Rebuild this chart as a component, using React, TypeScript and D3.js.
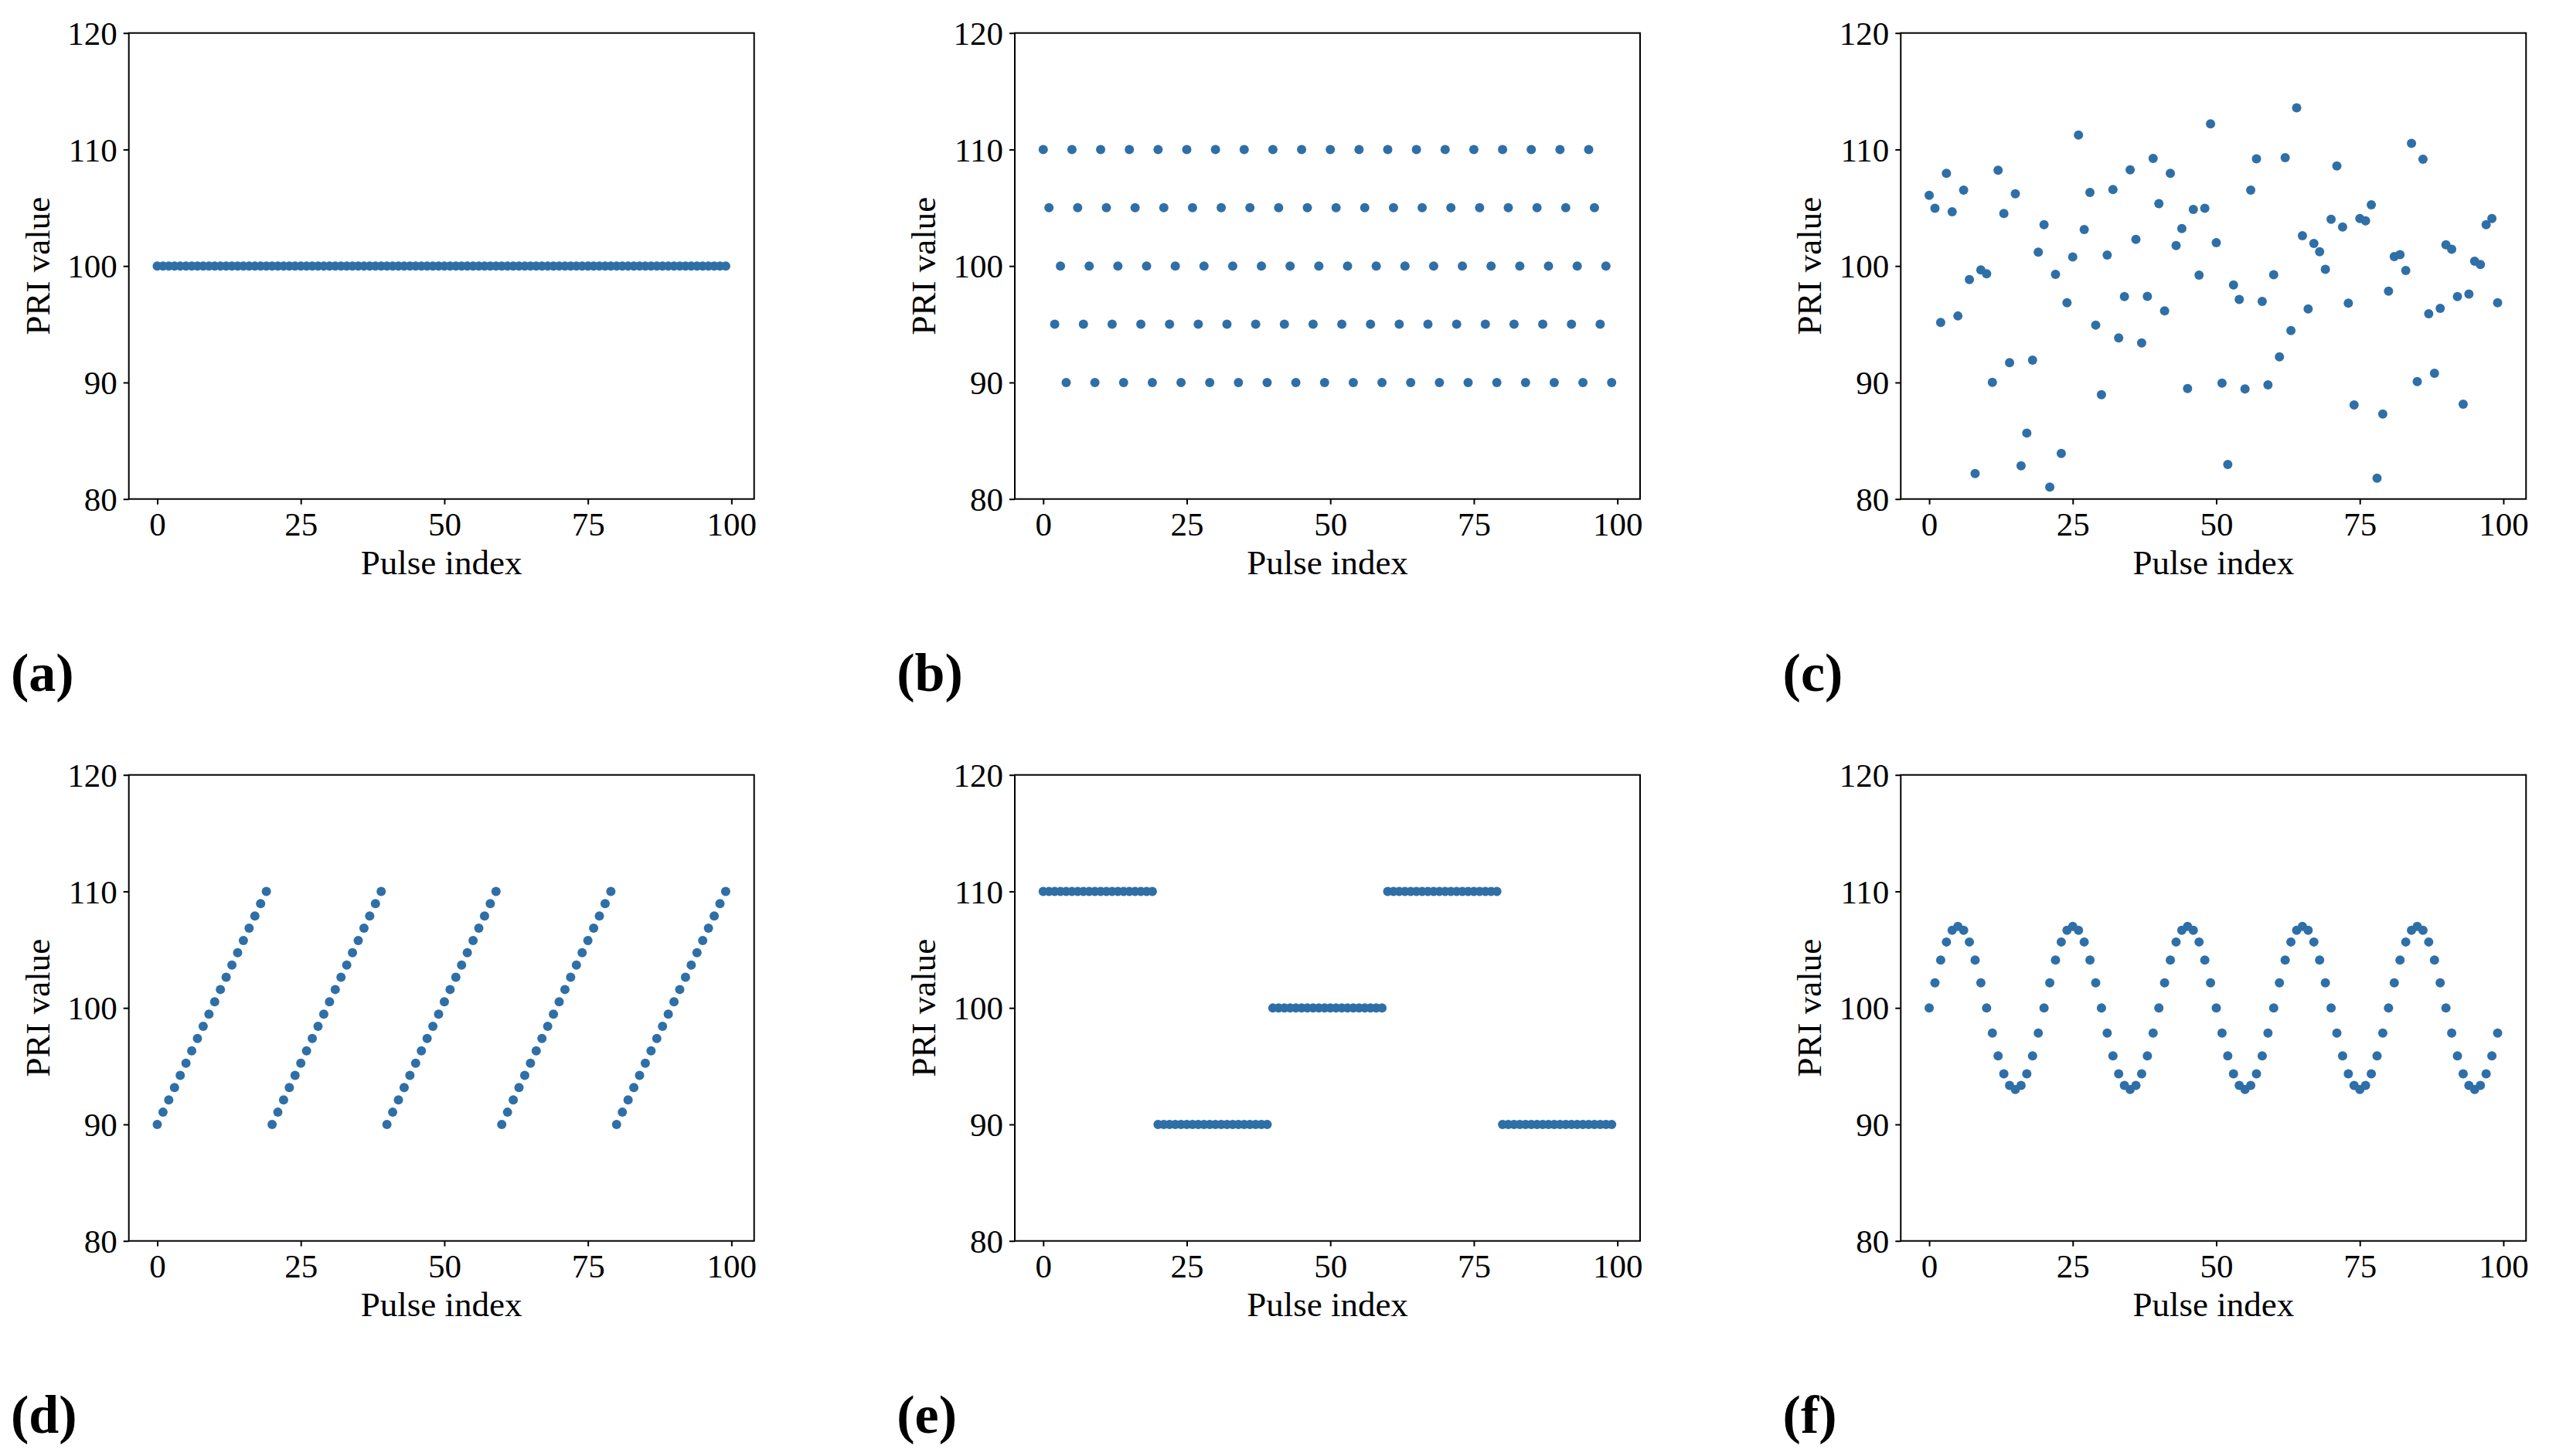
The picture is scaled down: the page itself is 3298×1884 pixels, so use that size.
import React, { useEffect, useRef } from 'react';
import * as d3 from 'd3';

const W = 3298;
const H = 1884;

const panelLabels = ['(a)', '(b)', '(c)', '(d)', '(e)', '(f)'];
const xTicks = [0, 25, 50, 75, 100];
const yTicks = [80, 90, 100, 110, 120];
const xTitle = 'Pulse index';
const yTitle = 'PRI value';

// (a) constant PRI
const constantPri = [
  100, 100, 100, 100, 100, 100, 100, 100, 100, 100,
  100, 100, 100, 100, 100, 100, 100, 100, 100, 100,
  100, 100, 100, 100, 100, 100, 100, 100, 100, 100,
  100, 100, 100, 100, 100, 100, 100, 100, 100, 100,
  100, 100, 100, 100, 100, 100, 100, 100, 100, 100,
  100, 100, 100, 100, 100, 100, 100, 100, 100, 100,
  100, 100, 100, 100, 100, 100, 100, 100, 100, 100,
  100, 100, 100, 100, 100, 100, 100, 100, 100, 100,
  100, 100, 100, 100, 100, 100, 100, 100, 100, 100,
  100, 100, 100, 100, 100, 100, 100, 100, 100, 100,
];

// (b) staggered PRI
const staggerPri = [
  110, 105, 95, 100, 90, 110, 105, 95, 100, 90,
  110, 105, 95, 100, 90, 110, 105, 95, 100, 90,
  110, 105, 95, 100, 90, 110, 105, 95, 100, 90,
  110, 105, 95, 100, 90, 110, 105, 95, 100, 90,
  110, 105, 95, 100, 90, 110, 105, 95, 100, 90,
  110, 105, 95, 100, 90, 110, 105, 95, 100, 90,
  110, 105, 95, 100, 90, 110, 105, 95, 100, 90,
  110, 105, 95, 100, 90, 110, 105, 95, 100, 90,
  110, 105, 95, 100, 90, 110, 105, 95, 100, 90,
  110, 105, 95, 100, 90, 110, 105, 95, 100, 90,
];

// (c) jittered PRI
const jitterPri = [
  106.07, 104.95, 95.15, 107.95, 104.66, 95.71, 106.51, 98.84, 82.19, 99.66,
  99.34, 90.02, 108.23, 104.51, 91.71, 106.2, 82.85, 85.66, 91.92, 101.19,
  103.54, 81.03, 99.28, 83.91, 96.84, 100.78, 111.24, 103.13, 106.32, 94.93,
  88.95, 100.94, 106.57, 93.83, 97.37, 108.26, 102.28, 93.4, 97.4, 109.23,
  105.35, 96.15, 107.95, 101.75, 103.22, 89.48, 104.85, 99.22, 104.95, 112.21,
  102.0, 89.95, 82.97, 98.37, 97.12, 89.45, 106.51, 109.2, 96.96, 89.8,
  99.25, 92.21, 109.3, 94.46, 113.58, 102.6, 96.31, 101.94, 101.22, 99.72,
  104.01, 108.58, 103.35, 96.81, 88.08, 104.07, 103.88, 105.26, 81.78, 87.29,
  97.84, 100.81, 100.97, 99.62, 110.52, 90.08, 109.17, 95.9, 90.8, 96.37,
  101.82, 101.44, 97.37, 88.14, 97.59, 100.41, 100.13, 103.54, 104.07, 96.84,
];

// (d) sliding PRI
const slidingPri = [
  90, 91.05, 92.11, 93.16, 94.21, 95.26, 96.32, 97.37, 98.42, 99.47,
  100.53, 101.58, 102.63, 103.68, 104.74, 105.79, 106.84, 107.89, 108.95, 110,
  90, 91.05, 92.11, 93.16, 94.21, 95.26, 96.32, 97.37, 98.42, 99.47,
  100.53, 101.58, 102.63, 103.68, 104.74, 105.79, 106.84, 107.89, 108.95, 110,
  90, 91.05, 92.11, 93.16, 94.21, 95.26, 96.32, 97.37, 98.42, 99.47,
  100.53, 101.58, 102.63, 103.68, 104.74, 105.79, 106.84, 107.89, 108.95, 110,
  90, 91.05, 92.11, 93.16, 94.21, 95.26, 96.32, 97.37, 98.42, 99.47,
  100.53, 101.58, 102.63, 103.68, 104.74, 105.79, 106.84, 107.89, 108.95, 110,
  90, 91.05, 92.11, 93.16, 94.21, 95.26, 96.32, 97.37, 98.42, 99.47,
  100.53, 101.58, 102.63, 103.68, 104.74, 105.79, 106.84, 107.89, 108.95, 110,
];

// (e) dwell & switch PRI
const dwellPri = [
  110, 110, 110, 110, 110, 110, 110, 110, 110, 110,
  110, 110, 110, 110, 110, 110, 110, 110, 110, 110,
  90, 90, 90, 90, 90, 90, 90, 90, 90, 90,
  90, 90, 90, 90, 90, 90, 90, 90, 90, 90,
  100, 100, 100, 100, 100, 100, 100, 100, 100, 100,
  100, 100, 100, 100, 100, 100, 100, 100, 100, 100,
  110, 110, 110, 110, 110, 110, 110, 110, 110, 110,
  110, 110, 110, 110, 110, 110, 110, 110, 110, 110,
  90, 90, 90, 90, 90, 90, 90, 90, 90, 90,
  90, 90, 90, 90, 90, 90, 90, 90, 90, 90,
];

// (f) wobbulated PRI
const wobbulatedPri = [
  100, 102.16, 104.11, 105.66, 106.66, 107, 106.66, 105.66, 104.11, 102.16,
  100, 97.84, 95.89, 94.34, 93.34, 93, 93.34, 94.34, 95.89, 97.84,
  100, 102.16, 104.11, 105.66, 106.66, 107, 106.66, 105.66, 104.11, 102.16,
  100, 97.84, 95.89, 94.34, 93.34, 93, 93.34, 94.34, 95.89, 97.84,
  100, 102.16, 104.11, 105.66, 106.66, 107, 106.66, 105.66, 104.11, 102.16,
  100, 97.84, 95.89, 94.34, 93.34, 93, 93.34, 94.34, 95.89, 97.84,
  100, 102.16, 104.11, 105.66, 106.66, 107, 106.66, 105.66, 104.11, 102.16,
  100, 97.84, 95.89, 94.34, 93.34, 93, 93.34, 94.34, 95.89, 97.84,
  100, 102.16, 104.11, 105.66, 106.66, 107, 106.66, 105.66, 104.11, 102.16,
  100, 97.84, 95.89, 94.34, 93.34, 93, 93.34, 94.34, 95.89, 97.84,
];

const series = [constantPri, staggerPri, jitterPri, slidingPri, dwellPri, wobbulatedPri];

// grid geometry
const axW = 809;
const axH = 603;
const colStep = 1146.3;
const rowStep = 960;
const axLeft0 = 166.7;
const axTop0 = 42.7;

const dotColor = '#2f6fa8';
const font = '"Liberation Serif", "Times New Roman", serif';

function Panel({ values, label, col, row }: { values: number[]; label: string; col: number; row: number }) {
  const gx = useRef<SVGGElement>(null);
  const gy = useRef<SVGGElement>(null);
  const left = axLeft0 + col * colStep;
  const top = axTop0 + row * rowStep;

  // matplotlib-style 5% margins around 0..99
  const x = d3.scaleLinear().domain([-4.95, 103.95]).range([0, axW]);
  const y = d3.scaleLinear().domain([80, 120]).range([axH, 0]);

  useEffect(() => {
    const xa = d3.axisBottom(x).tickValues(xTicks).tickSize(7).tickPadding(6).tickSizeOuter(0);
    const ya = d3.axisLeft(y).tickValues(yTicks).tickSize(7).tickPadding(8).tickSizeOuter(0);
    const sx = d3.select(gx.current!).call(xa);
    const sy = d3.select(gy.current!).call(ya);
    [sx, sy].forEach(s => {
      s.select('.domain').remove();
      s.selectAll('line').attr('stroke', '#000').attr('stroke-width', 2);
      s.selectAll('text')
        .attr('fill', '#000')
        .style('font-family', font)
        .style('font-size', '43px');
    });
    sx.selectAll('text').attr('dy', '0.8em');
    sy.selectAll('text').attr('dy', '0.34em');
  }, []);

  return (
    <g>
      <g transform={`translate(${left},${top})`}>
        {values.map((v, i) => (
          <circle key={i} cx={x(i)} cy={y(v)} r={6} fill={dotColor} />
        ))}
        <rect x={0} y={0} width={axW} height={axH} fill="none" stroke="#000" strokeWidth={2} />
        <g ref={gx} transform={`translate(0,${axH})`} />
        <g ref={gy} />
        <text
          x={axW / 2}
          y={axH + 97}
          textAnchor="middle"
          fontFamily={font}
          fontSize={45}
        >
          {xTitle}
        </text>
        <text
          transform={`translate(${-103},${axH / 2}) rotate(-90)`}
          textAnchor="middle"
          fontFamily={font}
          fontSize={45}
        >
          {yTitle}
        </text>
      </g>
      <text
        x={14 + col * colStep}
        y={894 + row * rowStep}
        fontFamily={font}
        fontWeight="bold"
        fontSize={70}
      >
        {label}
      </text>
    </g>
  );
}

export default function App() {
  return (
    <svg
      width={W}
      height={H}
      style={{ position: 'absolute', left: 0, top: 0, background: '#fff' }}
    >
      <rect width={W} height={H} fill="#fff" />
      {series.map((vals, k) => (
        <Panel key={k} values={vals} label={panelLabels[k]} col={k % 3} row={Math.floor(k / 3)} />
      ))}
    </svg>
  );
}
